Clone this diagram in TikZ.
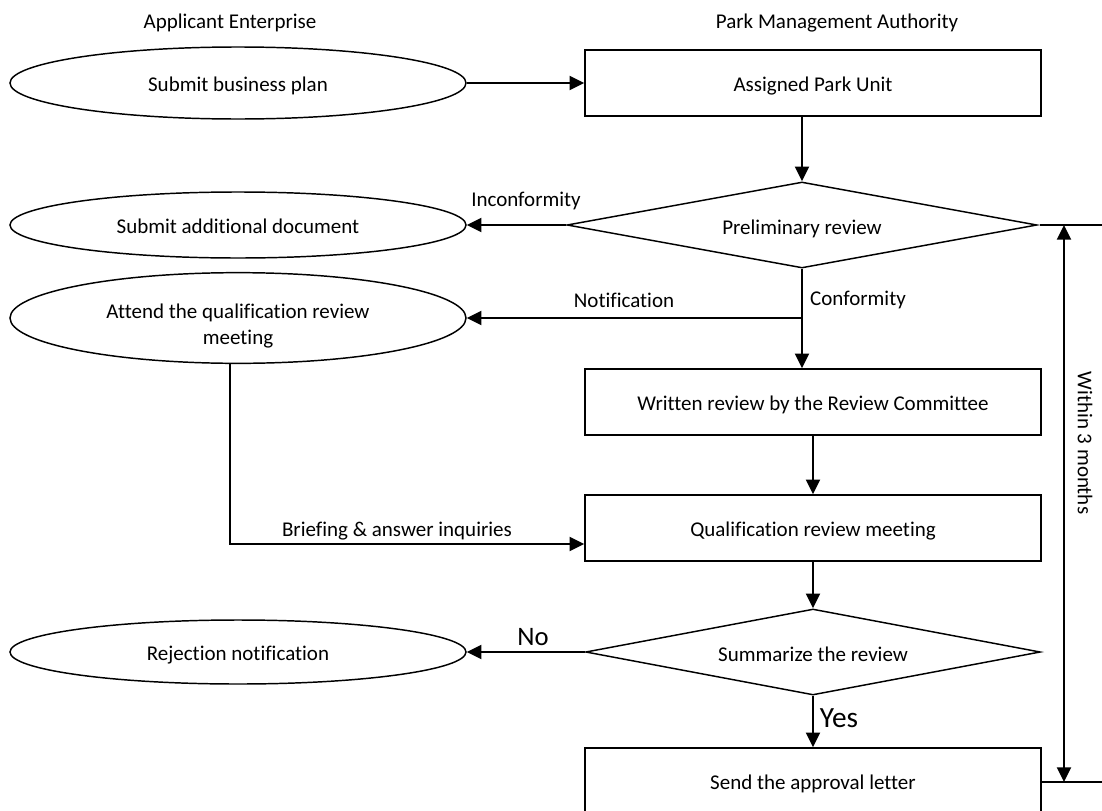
\documentclass[tikz,border=0pt]{standalone}
\usepackage{fontspec}
\setmainfont{Carlito}[Ligatures=NoCommon]
\usetikzlibrary{shapes.geometric,arrows.meta}
\begin{document}
\begin{tikzpicture}[x=0.75pt,y=-0.75pt,>={Triangle[length=11pt,width=10.5pt]},
  every node/.style={font=\fontsize{15.75}{19}\selectfont},
  oval/.style={draw,line width=1.1pt,ellipse,inner sep=0pt,minimum width=342pt,text height=15pt,text depth=2pt},
  unit/.style={draw,line width=1.1pt,rectangle,inner sep=0pt,minimum width=342pt,minimum height=49.5pt,text height=15pt,text depth=2pt},
  check/.style={draw,line width=1.1pt,diamond,shape aspect=5.5,inner sep=0pt,minimum height=64.5pt,text height=15.5pt,text depth=2pt},
  flow/.style={->,line width=1.6pt}]
\useasboundingbox (0,0) rectangle (1102,810);
\clip (0,0) rectangle (1102,810);
\node (hdA) at (230,23) {Applicant Enterprise};
\node (hdB) at (837,23) {Park Management Authority};
\node[oval,minimum height=54pt] (sbp) at (238,83) {Submit business plan};
\node[unit] (apu) at (813,83) {Assigned Park Unit};
\node[check,minimum width=352.5pt] (pre) at (802,225) {Preliminary review};
\node[oval,minimum height=49.5pt] (sad) at (238,225) {Submit additional document};
\node[oval,minimum height=68pt,text height=,text depth=,
  label={[align=center,yshift=-6pt]center:Attend the qualification review\\meeting}] (att) at (238,318) {};
\node[unit] (wrb) at (813,402) {Written review by the Review Committee};
\node[unit] (qrm) at (813,528) {Qualification review meeting};
\node[check,minimum width=341pt] (sum) at (813,652) {Summarize the review};
\node[oval,minimum height=48pt] (rej) at (238,652) {Rejection notification};
\node[unit] (sal) at (813,781) {Send the approval letter};
\draw[flow] (sbp) -- (apu);
\draw[flow] (apu.south -| pre.north) -- (pre.north);
\draw[flow] (pre.west) -- (sad.east);
\draw[flow] (pre.south) -- (pre.south |- wrb.north);
\draw[flow] (pre.south |- att.east) -- (att.east);
\draw[flow] (wrb) -- (qrm);
\draw[flow] ([xshift=-6pt]att.south) |- ([yshift=-12pt]qrm.west);
\draw[flow] (qrm) -- (sum);
\draw[flow] (sum.west) -- (rej.east);
\draw[flow] (sum) -- (sal);
\node (lInc) at (526,201) {Inconformity};
\node (lNot) at (624,300) {Notification};
\node (lCon) at (858,300) {Conformity};
\node (lBri) at (397,531) {Briefing \& answer inquiries};
\node[font=\fontsize{20}{24}\selectfont] (lNo) at (533,637) {No};
\node[font=\fontsize{22}{26}\selectfont] (lYes) at (839,718) {Yes};
% time limit on the right
\coordinate (r1) at (1102,225);
\coordinate (r2) at (1102,782);
\coordinate (m1) at (1064,225);
\coordinate (m2) at (1064,782);
\draw[line width=1.1pt] ([xshift=2pt]pre.east) -- (r1);
\draw[line width=1.1pt] (sal.east |- r2) -- (r2);
\draw[<->,line width=1.6pt] (m1) -- (m2);
\node[rotate=-90] (win) at (1085,443) {Within 3 months};
\end{tikzpicture}
\end{document}
